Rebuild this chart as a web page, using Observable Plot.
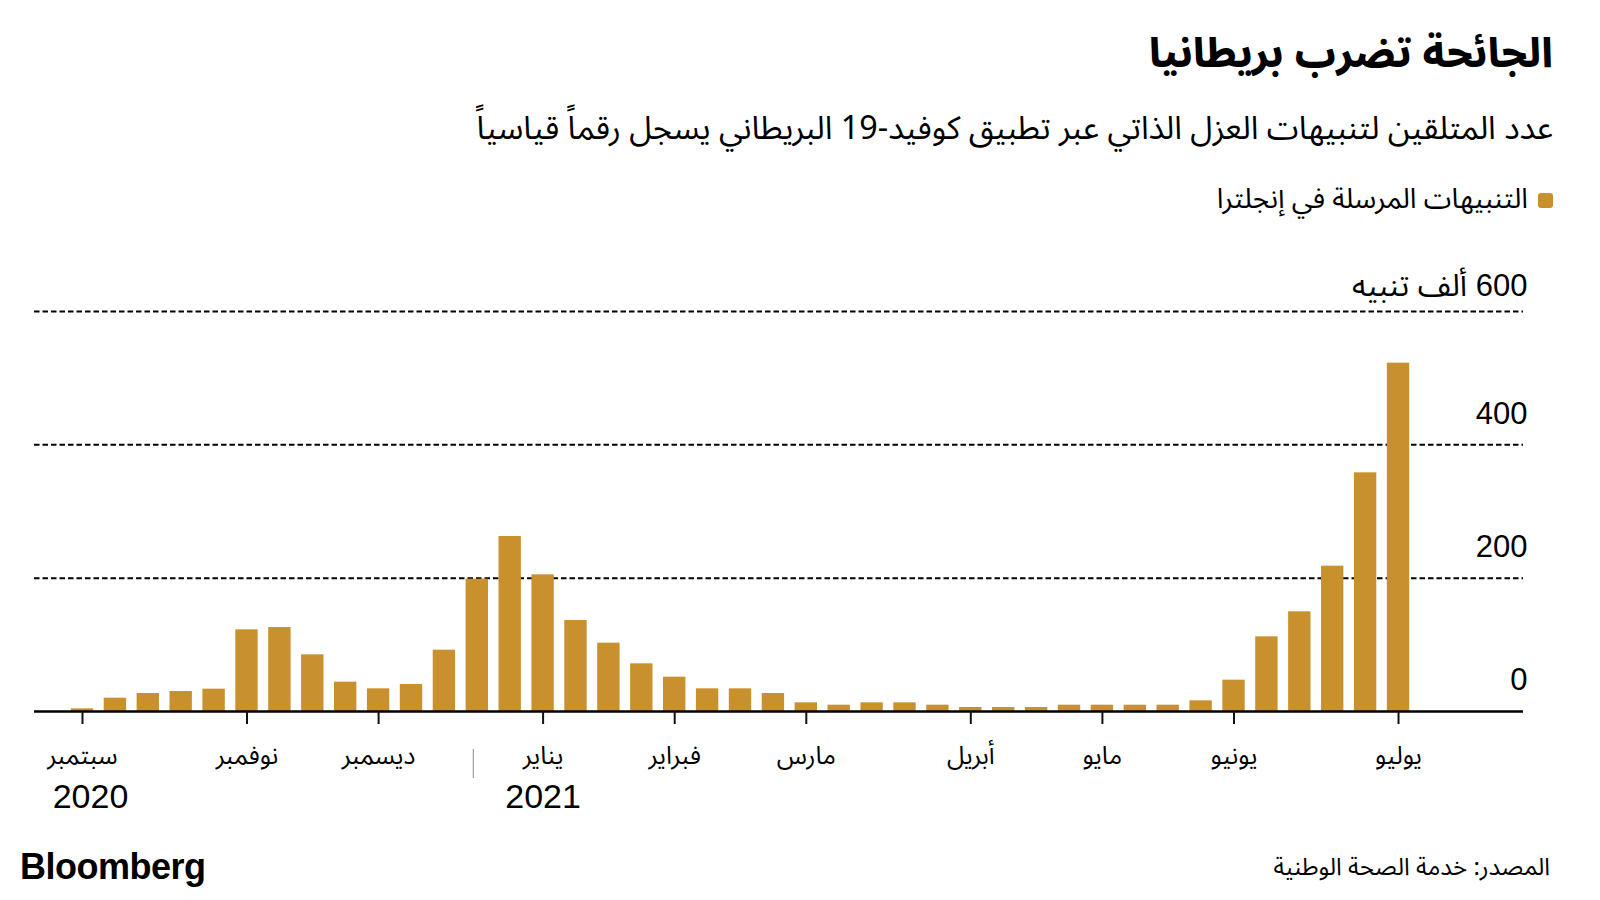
<!DOCTYPE html>
<html lang="ar">
<head>
<meta charset="utf-8">
<script src="https://cdn.jsdelivr.net/npm/d3@7"></script>
<script src="https://cdn.jsdelivr.net/npm/@observablehq/plot@0.6"></script>
<style>
  html, body { margin: 0; padding: 0; background: #fff; }
  body { width: 1600px; height: 900px; position: relative; overflow: hidden;
         font-family: "Noto Sans Arabic", "DejaVu Sans Condensed", "DejaVu Sans", sans-serif; color: #000; }
  .rtl { direction: rtl; position: absolute; right: 47px; white-space: nowrap; }
  #title { top: 27px; font-size: 40.5px; font-weight: 800; line-height: 54px; }
  #subtitle { top: 107px; font-size: 32.3px; line-height: 44px; }
  #legend { top: 180px; font-size: 28px; line-height: 40px; display: flex; align-items: center; gap: 10px; }
  #legend .sw { width: 15px; height: 15px; border-radius: 3px; display: inline-block; }
  #chart { position: absolute; left: 0; top: 240px; }
  #brand { position: absolute; left: 20px; top: 847px; font-family: "Liberation Sans", Arial, sans-serif;
           font-weight: 700; font-size: 36px; letter-spacing: -0.5px; line-height: 40px; }
  #source { top: 851px; font-size: 24px; line-height: 34px; right: 50px; }
</style>
</head>
<body>
<div id="title" class="rtl">الجائحة تضرب بريطانيا</div>
<div id="subtitle" class="rtl">عدد المتلقين لتنبيهات العزل الذاتي عبر تطبيق كوفيد-19 البريطاني يسجل رقماً قياسياً</div>
<div id="legend" class="rtl"><span class="sw"></span><span id="legendText">التنبيهات المرسلة في إنجلترا</span></div>
<div id="chart"></div>
<div id="brand">Bloomberg</div>
<div id="source" class="rtl">المصدر: خدمة الصحة الوطنية</div>
<script>
// Weekly alerts sent in England (thousands), week ending
const weeks = [
  "2020-09-30","2020-10-07","2020-10-14","2020-10-21","2020-10-28",
  "2020-11-04","2020-11-11","2020-11-18","2020-11-25",
  "2020-12-02","2020-12-09","2020-12-16","2020-12-23","2020-12-30",
  "2021-01-06","2021-01-13","2021-01-20","2021-01-27",
  "2021-02-03","2021-02-10","2021-02-17","2021-02-24",
  "2021-03-03","2021-03-10","2021-03-17","2021-03-24","2021-03-31",
  "2021-04-07","2021-04-14","2021-04-21","2021-04-28",
  "2021-05-05","2021-05-12","2021-05-19","2021-05-26",
  "2021-06-02","2021-06-09","2021-06-16","2021-06-23","2021-06-30",
  "2021-07-07"
];
const alerts = [
  4, 20, 27, 30, 33.5,
  122.5, 126, 85, 44,
  34, 40.5, 92, 198.5, 262.5,
  205, 136.5, 102.5, 71.5,
  51.5, 34, 34, 27,
  13, 9.5, 13, 13, 9.5,
  6, 6, 6, 9.5,
  9.5, 9.5, 9.5, 16,
  47, 112, 149.5, 218, 358,
  522.5
];
const monthTickWeeks = ["2020-09-30","2020-11-04","2020-12-02","2021-01-06","2021-02-03","2021-03-03","2021-04-07","2021-05-05","2021-06-02","2021-07-07"];
const monthTickLabels = ["سبتمبر","نوفمبر","ديسمبر","يناير","فبراير","مارس","أبريل","مايو","يونيو","يوليو"];
const yearTickWeeks = ["2020-09-30","2021-01-06"];
const yearTickLabels = ["2020","2021"];
const yearSeparatorWeek = ["2020-12-23"];
const yTicks = [0, 200, 400];
const yTickLabels = ["0","200","400"];
const yTopTick = [600];
const yTopLabel = ["\u2067600 ألف تنبيه\u2069"];
const gridValues = [200, 400, 600];
const barColor = "#C9912D";

document.querySelector("#legend .sw").style.background = barColor;

const data = weeks.map((w, i) => ({week: w, value: alerts[i]}));
const months = monthTickWeeks.map((w, i) => ({week: w, label: monthTickLabels[i]}));
const years = yearTickWeeks.map((w, i) => ({week: w, label: yearTickLabels[i]}));
const yLabels = yTicks.map((v, i) => ({value: v, label: yTickLabels[i]}));
const yTop = yTopTick.map((v, i) => ({value: v, label: yTopLabel[i]}));

const chart = Plot.plot({
  width: 1600,
  height: 580,
  marginTop: 71,
  marginBottom: 109,
  marginLeft: 34,
  marginRight: 77,
  x: {type: "band", domain: weeks, range: [70.8, 1409.2], paddingInner: 0.32, paddingOuter: 0, align: 0.5, axis: null},
  y: {domain: [0, 600], axis: null},
  style: {
    fontFamily: "'Liberation Sans', 'Noto Sans Arabic', 'DejaVu Sans Condensed', 'DejaVu Sans', sans-serif",
    fontSize: "26px",
    color: "#000",
    background: "#fff",
    overflow: "visible"
  },
  marks: [
    Plot.ruleY(gridValues, {stroke: "#000", strokeWidth: 2, strokeDasharray: "5.5,3"}),
    Plot.barY(data, {x: "week", y: "value", fill: barColor}),
    Plot.ruleY([0], {stroke: "#000", strokeWidth: 2.5}),
    Plot.axisX(monthTickWeeks, {tickSize: 13, strokeWidth: 2, stroke: "#111", fill: "none", label: null}),
    Plot.axisX(yearSeparatorWeek, {tickSize: 29, dy: 38, dx: -4, strokeWidth: 1, stroke: "#888", fill: "none", label: null}),
    Plot.text(months, {x: "week", text: "label", frameAnchor: "bottom", dy: 44, fontSize: 25, lineAnchor: "middle", fill: "#000"}),
    Plot.text(years.slice(0, 1), {x: "week", text: "label", frameAnchor: "bottom", dy: 86, dx: 8, fontSize: 34, lineAnchor: "middle", fill: "#000"}),
    Plot.text(years.slice(1), {x: "week", text: "label", frameAnchor: "bottom", dy: 86, fontSize: 34, lineAnchor: "middle", fill: "#000"}),
    Plot.text(yLabels, {y: "value", text: "label", frameAnchor: "right", textAnchor: "end", dx: 4, dy: -31, fontSize: 31, lineAnchor: "middle", fill: "#000"}),
    Plot.text(yTop, {y: "value", text: "label", frameAnchor: "right", textAnchor: "end", dx: 4, dy: -25, fontSize: 31, lineAnchor: "middle", fill: "#000"})
  ]
});
document.getElementById("chart").appendChild(chart);
</script>
</body>
</html>
